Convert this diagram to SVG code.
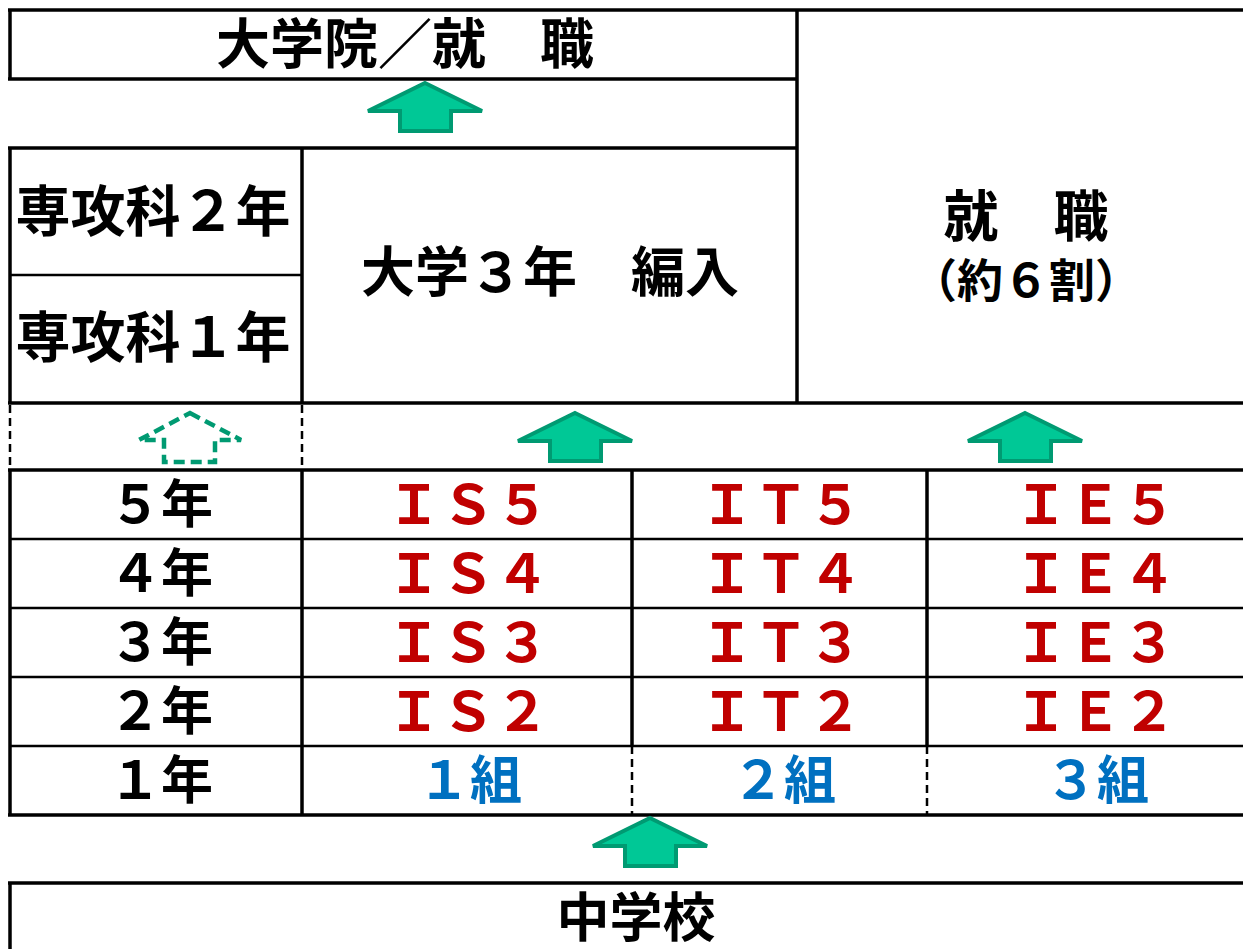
<svg xmlns="http://www.w3.org/2000/svg" width="1243" height="949" viewBox="0 0 1243 949">
<style>
.ln{stroke:#000;stroke-width:3.5;fill:none}
.thin{stroke:#000;stroke-width:2.5;fill:none}
.dash{stroke:#000;stroke-width:2.5;fill:none;stroke-dasharray:8,5}
.t{font-family:"Noto Sans CJK JP","Noto Sans",sans-serif;font-weight:bold;text-anchor:middle;fill:#000}
.r{fill:#C00000}
.b{fill:#0070C0}
.arr{fill:#00C896;stroke:#009A72;stroke-width:4;stroke-linejoin:miter}
.arrd{fill:none;stroke:#009A72;stroke-width:4.5;stroke-dasharray:11,6}
</style>
<defs>
<path id="ar" d="M0,0 L57,28 L26,28 L26,48 L-25,48 L-25,28 L-57,28 Z"/>
</defs>
<rect width="1243" height="949" fill="#fff"/>
<g id="connectors">
<line class="ln" x1="8" y1="10" x2="1243" y2="10"/>
<line class="ln" x1="10" y1="10" x2="10" y2="79"/>
<line class="ln" x1="8" y1="79" x2="797" y2="79"/>
<line class="ln" x1="797" y1="10" x2="797" y2="403"/>
<line class="ln" x1="8" y1="148" x2="797" y2="148"/>
<line class="ln" x1="10" y1="148" x2="10" y2="403"/>
<line class="ln" x1="302" y1="148" x2="302" y2="403"/>
<line class="thin" x1="10" y1="275" x2="302" y2="275"/>
<line class="ln" x1="8" y1="403" x2="1243" y2="403"/>
<line class="dash" x1="10" y1="405" x2="10" y2="470"/>
<line class="dash" x1="302" y1="405" x2="302" y2="470"/>
<line class="ln" x1="8" y1="470" x2="1243" y2="470"/>
<line class="thin" x1="10" y1="539" x2="1243" y2="539"/>
<line class="thin" x1="10" y1="608" x2="1243" y2="608"/>
<line class="thin" x1="10" y1="677" x2="1243" y2="677"/>
<line class="thin" x1="10" y1="746" x2="1243" y2="746"/>
<line class="ln" x1="8" y1="815" x2="1243" y2="815"/>
<line class="ln" x1="10" y1="470" x2="10" y2="815"/>
<line class="ln" x1="302" y1="470" x2="302" y2="815"/>
<line class="ln" x1="632" y1="470" x2="632" y2="746"/>
<line class="ln" x1="927" y1="470" x2="927" y2="746"/>
<line class="dash" x1="632" y1="746" x2="632" y2="815"/>
<line class="dash" x1="927" y1="746" x2="927" y2="815"/>
<line class="ln" x1="8" y1="883" x2="1243" y2="883"/>
<line class="ln" x1="10" y1="883" x2="10" y2="949"/>
<use href="#ar" class="arr" x="425" y="83"/>
<use href="#ar" class="arr" x="575" y="413"/>
<use href="#ar" class="arr" x="1025" y="413"/>
<use href="#ar" class="arr" x="650" y="818"/>
<path class="arrd" d="M190,413 L241,440 L215,440 L215,462 L164,462 L164,440 L139,440 Z"/>
</g>
<g id="n-grad"><text class="t" x="405" y="64" font-size="54">大学院／就　職</text></g>
<g id="n-sen2"><text class="t" x="153" y="231" font-size="55">専攻科２年</text></g>
<g id="n-sen1"><text class="t" x="153" y="357" font-size="55">専攻科１年</text></g>
<g id="n-univ"><text class="t" x="550" y="292" font-size="54">大学３年　編入</text></g>
<g id="n-job"><text class="t" x="1026" y="236" font-size="55">就　職</text><text class="t" x="1026" y="297" font-size="46">（約６割）</text></g>
<g id="n-years">
<text class="t" x="161" y="523" font-size="52">５年</text>
<text class="t" x="161" y="592" font-size="52">４年</text>
<text class="t" x="161" y="661" font-size="52">３年</text>
<text class="t" x="161" y="730" font-size="52">２年</text>
<text class="t" x="161" y="799" font-size="52">１年</text>
</g>
<g id="n-is">
<text class="t r" x="468" y="524" font-size="54">ＩＳ５</text>
<text class="t r" x="468" y="593" font-size="54">ＩＳ４</text>
<text class="t r" x="468" y="662" font-size="54">ＩＳ３</text>
<text class="t r" x="468" y="731" font-size="54">ＩＳ２</text>
<text class="t b" x="470" y="799" font-size="52">１組</text>
</g>
<g id="n-it">
<text class="t r" x="781" y="524" font-size="54">ＩＴ５</text>
<text class="t r" x="781" y="593" font-size="54">ＩＴ４</text>
<text class="t r" x="781" y="662" font-size="54">ＩＴ３</text>
<text class="t r" x="781" y="731" font-size="54">ＩＴ２</text>
<text class="t b" x="784" y="799" font-size="52">２組</text>
</g>
<g id="n-ie">
<text class="t r" x="1095" y="524" font-size="54">ＩＥ５</text>
<text class="t r" x="1095" y="593" font-size="54">ＩＥ４</text>
<text class="t r" x="1095" y="662" font-size="54">ＩＥ３</text>
<text class="t r" x="1095" y="731" font-size="54">ＩＥ２</text>
<text class="t b" x="1097" y="799" font-size="52">３組</text>
</g>
<g id="n-jhs"><text class="t" x="636" y="937" font-size="53">中学校</text></g>
</svg>
